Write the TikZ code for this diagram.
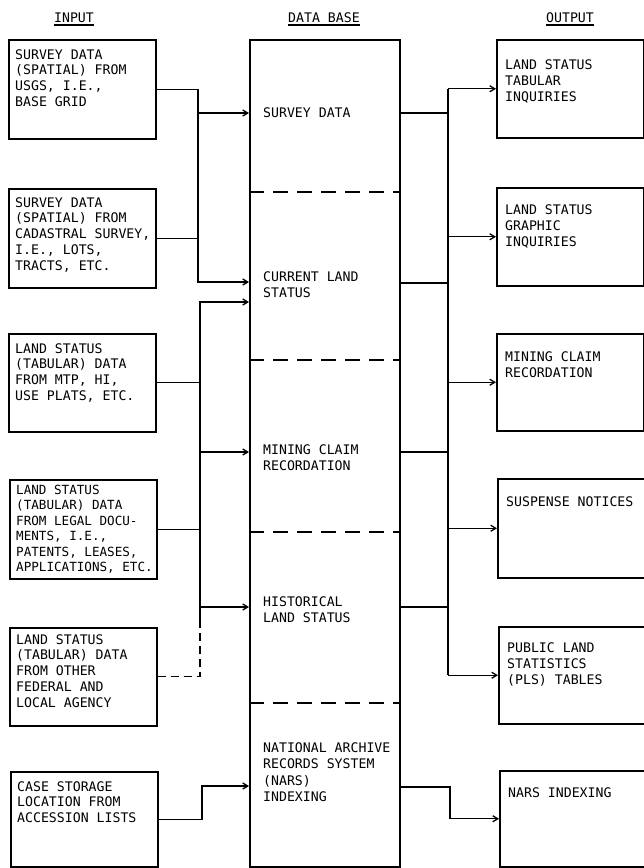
\documentclass[tikz,border=0pt]{standalone}
\usepackage{fontspec}
\setmonofont{DejaVu Sans Mono}
\usetikzlibrary{positioning,calc}
\usetikzlibrary{arrows.meta}
\tikzset{
  box/.style={draw=black,line width=1.5pt,anchor=north west,minimum width=147,inner sep=0pt},
  dbbox/.style={draw=black,line width=1.5pt,anchor=north west,minimum width=150,minimum height=827,inner sep=0pt},
  boxtext/.style={anchor=north west,inner sep=0pt,align=left,font=\ttfamily\fontsize{13.2}{15.8}\selectfont},
  dbtext/.style={anchor=north west,inner sep=0pt,align=left,font=\ttfamily\fontsize{13.2}{16.3}\selectfont},
  head/.style={anchor=base,inner sep=0pt,font=\ttfamily\fontsize{13.2}{15.8}\selectfont},
  link/.style={draw=black,line width=1.3pt},
  arr/.style={link,-{Straight Barb[length=5pt,width=6pt]}},
  dashlink/.style={link,dash pattern=on 8pt off 5pt},
  divider/.style={draw=black,line width=1.2pt,dash pattern=on 15pt off 9pt},
}

\begin{document}
\begin{tikzpicture}[x=1pt,y=-1pt]
\useasboundingbox (0,0) rectangle (644,868);

% column heads
\node[head] (hIn) at (74,22) {INPUT};
\node[head] (hDb) at (324,22) {DATA BASE};
\node[head] (hOut) at (570,22) {OUTPUT};
\foreach \h in {hIn,hDb,hOut}
  \draw[link] ($(\h.base west)+(0,3)$) -- ($(\h.base east)+(0,3)$);

% input boxes
\node[box,minimum height=99] (in1) at (8,39) {};
\node[box,minimum height=99] (in2) at (8,188) {};
\node[box,minimum height=98] (in3) at (8,333) {};
\node[box,minimum height=99] (in4) at (9,479) {};
\node[box,minimum height=98] (in5) at (9,627) {};
\node[box,minimum height=95] (in6) at (10,771) {};
\node[boxtext] (in1t) at ($(in1.north west)+(7,10)$) {SURVEY DATA\\(SPATIAL) FROM\\USGS, I.E.,\\BASE GRID};
\node[boxtext] (in2t) at ($(in2.north west)+(7,9)$) {SURVEY DATA\\(SPATIAL) FROM\\CADASTRAL SURVEY,\\I.E., LOTS,\\TRACTS, ETC.};
\node[boxtext] (in3t) at ($(in3.north west)+(7,10)$) {LAND STATUS\\(TABULAR) DATA\\FROM MTP, HI,\\USE PLATS, ETC.};
\node[boxtext,font=\ttfamily\fontsize{12.6}{15.4}\selectfont] (in4t) at ($(in4.north west)+(7,6)$) {LAND STATUS\\(TABULAR) DATA\\FROM LEGAL DOCU-\\MENTS, I.E.,\\PATENTS, LEASES,\\APPLICATIONS, ETC.};
\node[boxtext] (in5t) at ($(in5.north west)+(7,7)$) {LAND STATUS\\(TABULAR) DATA\\FROM OTHER\\FEDERAL AND\\LOCAL AGENCY};
\node[boxtext] (in6t) at ($(in6.north west)+(7,10)$) {CASE STORAGE\\LOCATION FROM\\ACCESSION LISTS};

% data base column
\node[dbbox] (db) at (249,39) {};
\foreach \y in {192,360,532,703}
  \draw[divider] (db.west |- 0,\y) -- (db.east |- 0,\y);
\node[dbtext] (tSurvey) at (263,107.5) {SURVEY DATA};
\node[dbtext] (tCur) at (263,271.5) {CURRENT LAND\\STATUS};
\node[dbtext] (tMine) at (263,444.5) {MINING CLAIM\\RECORDATION};
\node[dbtext] (tHist) at (263,596.5) {HISTORICAL\\LAND STATUS};
\node[dbtext] (tNars) at (263,742.5) {NATIONAL ARCHIVE\\RECORDS SYSTEM\\(NARS)\\INDEXING};

\coordinate (wSurvey) at (db.west |- 0,113);
\coordinate (wCurA) at (db.west |- 0,282);
\coordinate (wCurB) at (db.west |- 0,302);
\coordinate (wMine) at (db.west |- 0,452);
\coordinate (wHist) at (db.west |- 0,607);
\coordinate (wNars) at (db.west |- 0,786);
\coordinate (eSurvey) at (db.east |- 0,113);
\coordinate (eCur) at (db.east |- 0,283);
\coordinate (eMine) at (db.east |- 0,452);
\coordinate (eHist) at (db.east |- 0,607);
\coordinate (eNars) at (db.east |- 0,787);

% output boxes
\node[box,minimum height=98] (out1) at (496,39) {};
\node[box,minimum height=98] (out2) at (496,187) {};
\node[box,minimum height=97] (out3) at (496,333) {};
\node[box,minimum height=99] (out4) at (497,478) {};
\node[box,minimum height=97] (out5) at (498,626) {};
\node[box,minimum height=96] (out6) at (499,770) {};
\node[boxtext] (out1t) at ($(out1.north west)+(9,20.5)$) {LAND STATUS\\TABULAR\\INQUIRIES};
\node[boxtext] (out2t) at ($(out2.north west)+(9,17.5)$) {LAND STATUS\\GRAPHIC\\INQUIRIES};
\node[boxtext] (out3t) at ($(out3.north west)+(9,18.5)$) {MINING CLAIM\\RECORDATION};
\node[boxtext] (out4t) at ($(out4.north west)+(9,18.5)$) {SUSPENSE NOTICES};
\node[boxtext] (out5t) at ($(out5.north west)+(9,16.5)$) {PUBLIC LAND\\STATISTICS\\(PLS) TABLES};
\node[boxtext] (out6t) at ($(out6.north west)+(9,17.5)$) {NARS INDEXING};

% bus lines
\coordinate (busA) at (198,0);
\coordinate (busB) at (200,0);
\coordinate (busC) at (202,0);
\coordinate (busD) at (448,0);
\coordinate (busE) at (450,0);
\coordinate (busBend) at (busB |- 0,620);

% inputs to data base
\draw[arr] (in1.east) -- (in1.east -| busA) |- (wCurA);
\draw[link] (in2.east) -- (in2.east -| busA);
\draw[arr] (busA |- wSurvey) -- (wSurvey);
\draw[arr] (busBend) |- (wCurB);
\draw[link] (in3.east) -- (in3.east -| busB);
\draw[link] (in4.east) -- (in4.east -| busB);
\draw[arr] (busB |- wMine) -- (wMine);
\draw[arr] (busB |- wHist) -- (wHist);
\draw[dashlink] (in5.east) -| (busBend);
\draw[arr] (in6.east) -- (in6.east -| busC) |- (wNars);

% data base to outputs
\foreach \e in {eSurvey,eCur,eMine,eHist}
  \draw[link] (\e) -- (\e -| busD);
\draw[link] (busD |- out1.west) -- (busD |- out5.west);
\foreach \o in {out1,out2,out3,out4,out5}
  \draw[arr] (busD |- \o.west) -- (\o.west);
\draw[arr] (eNars) -- (eNars -| busE) |- (out6.west);
\end{tikzpicture}
\end{document}
